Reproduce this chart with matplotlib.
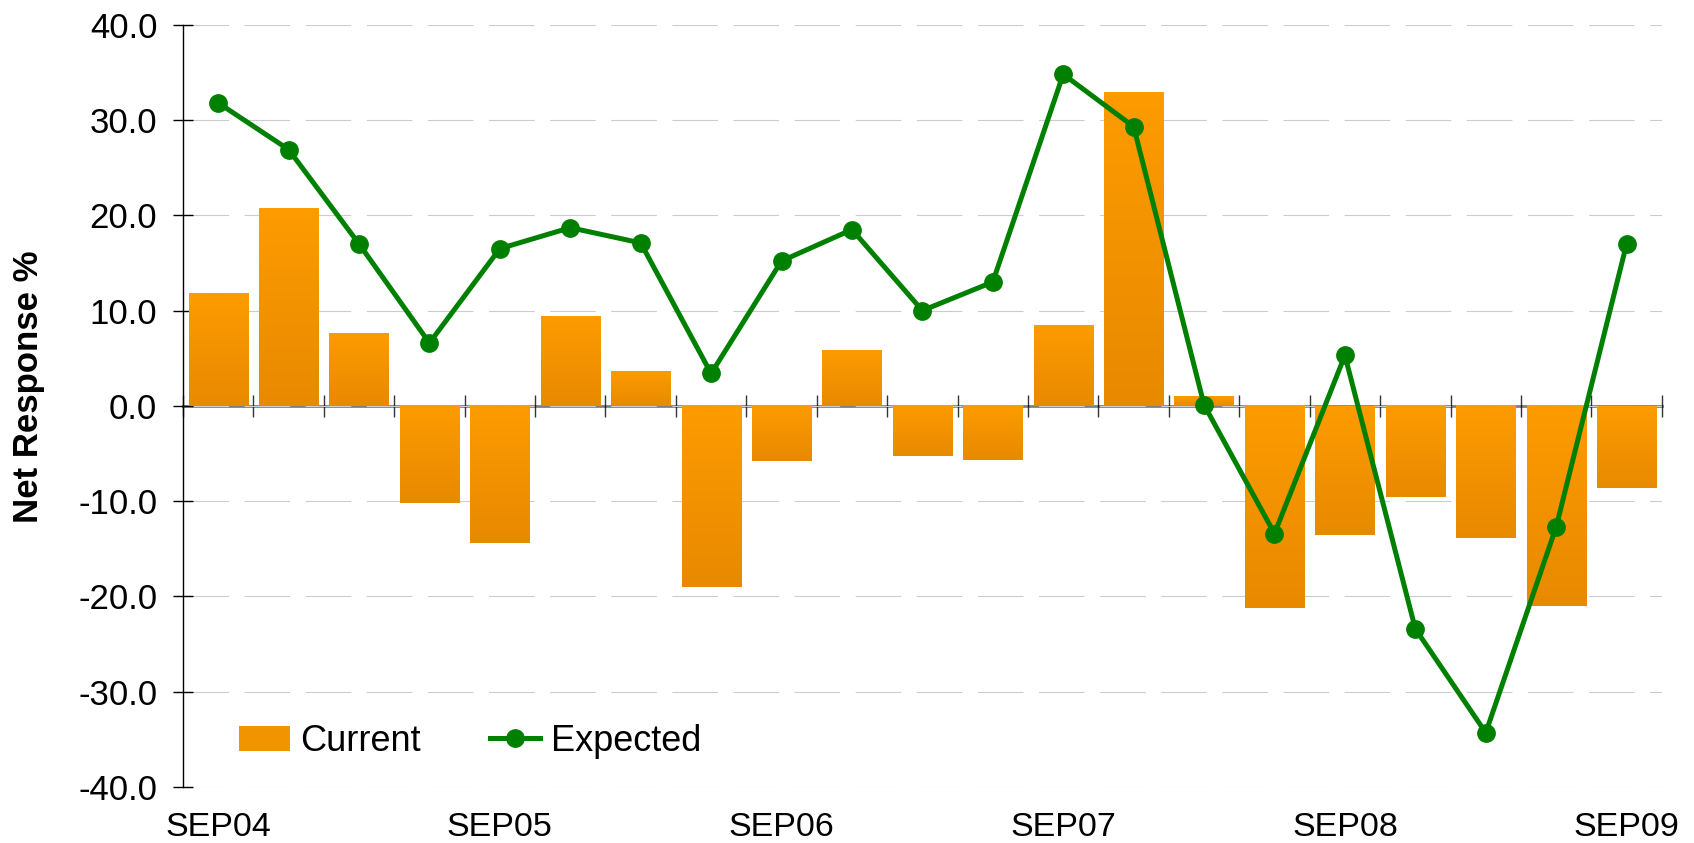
import matplotlib
matplotlib.use('Agg')
import matplotlib.pyplot as plt
import numpy as np
from matplotlib.colors import LinearSegmentedColormap

plt.rcParams['font.family'] = ['Liberation Sans', 'DejaVu Sans']

# Quarterly survey periods
quarters = ['SEP04', 'DEC04', 'MAR05', 'JUN05',
            'SEP05', 'DEC05', 'MAR06', 'JUN06',
            'SEP06', 'DEC06', 'MAR07', 'JUN07',
            'SEP07', 'DEC07', 'MAR08', 'JUN08',
            'SEP08', 'DEC08', 'MAR09', 'JUN09',
            'SEP09']
current = [11.8, 20.7, 7.6, -10.2, -14.4, 9.4, 3.6, -19.0, -5.8, 5.8, -5.3,
           -5.7, 8.5, 32.9, 1.0, -21.2, -13.5, -9.6, -13.9, -21.0, -8.6]
expected = [31.8, 26.9, 17.0, 6.6, 16.5, 18.7, 17.1, 3.4, 15.2, 18.5, 10.0,
            13.0, 34.8, 29.3, 0.1, -13.4, 5.3, -23.4, -34.3, -12.7, 17.0]

BAR_TOP = '#FD9B00'
BAR_BOTTOM = '#E88A00'
BAR_MID = '#F29300'
GREEN = '#008000'

fig = plt.figure(figsize=(16.94, 8.43), dpi=100)
ax = fig.add_axes([0.108, 0.0664, 0.873, 0.9043])

x = np.arange(len(quarters))

# Bars with a vertical gradient (lighter at the top)
bars = ax.bar(x, current, width=0.84, color=BAR_MID, zorder=1, label='Current')
grad_cmap = LinearSegmentedColormap.from_list('bar', [BAR_BOTTOM, BAR_TOP])
grad = np.linspace(0, 1, 100).reshape(-1, 1)
for b in bars:
    x0, y0 = b.get_x(), b.get_y()
    w, h = b.get_width(), b.get_height()
    lo, hi = min(y0, y0 + h), max(y0, y0 + h)
    ax.imshow(grad, cmap=grad_cmap, origin='lower', aspect='auto',
              extent=(x0, x0 + w, lo, hi), zorder=1.1, interpolation='bilinear')

line, = ax.plot(x, expected, color=GREEN, linewidth=3.6, marker='o', markersize=12.5,
                zorder=3, label='Expected')

ax.set_xlim(-0.5, len(quarters) - 0.5)
ax.set_ylim(-40, 40)

# y axis
ax.set_yticks(np.arange(-40, 41, 10))
ax.set_yticklabels([f'{v:.1f}' for v in np.arange(-40, 41, 10)])
ax.tick_params(axis='y', direction='inout', length=15, width=1, labelsize=25, pad=11)
ax.set_ylabel('Net Response %', fontsize=25, fontweight='bold')
ax.yaxis.set_label_coords(-0.093, 0.525)

ax.grid(axis='y', color='#CCCCCC', linewidth=0.8, linestyle=(0, (41, 14)), zorder=0)
ax.set_axisbelow(True)

# x labels at the bottom, every fourth quarter
ax.set_xticks(x)
ax.set_xticklabels([q if i % 4 == 0 else '' for i, q in enumerate(quarters)])
ax.tick_params(axis='x', length=0, labelsize=24.5, pad=18)

for side in ['top', 'right', 'bottom']:
    ax.spines[side].set_visible(False)
ax.spines['left'].set_linewidth(1)

# category axis crossing at zero
zero_ax = ax.secondary_xaxis(0.5)
zero_ax.set_xticks(np.arange(-0.5, len(quarters), 1.0))
zero_ax.tick_params(axis='x', direction='inout', length=16, width=1, color='#333333',
                    labelbottom=False, labeltop=False)
zero_ax.spines['bottom'].set_color((0, 0, 0, 0.5))
zero_ax.spines['bottom'].set_linewidth(2)
zero_ax.spines['top'].set_color((0, 0, 0, 0.5))
zero_ax.spines['top'].set_linewidth(2)

ax.legend(handles=[bars, line], loc='lower left', bbox_to_anchor=(0.038, 0.037), ncol=2,
          frameon=False, fontsize=26, handlelength=1.4, handleheight=0.7,
          handletextpad=0.3, columnspacing=1.9, borderpad=0, borderaxespad=0)

fig.savefig('out.png', dpi=100)
plt.close(fig)
